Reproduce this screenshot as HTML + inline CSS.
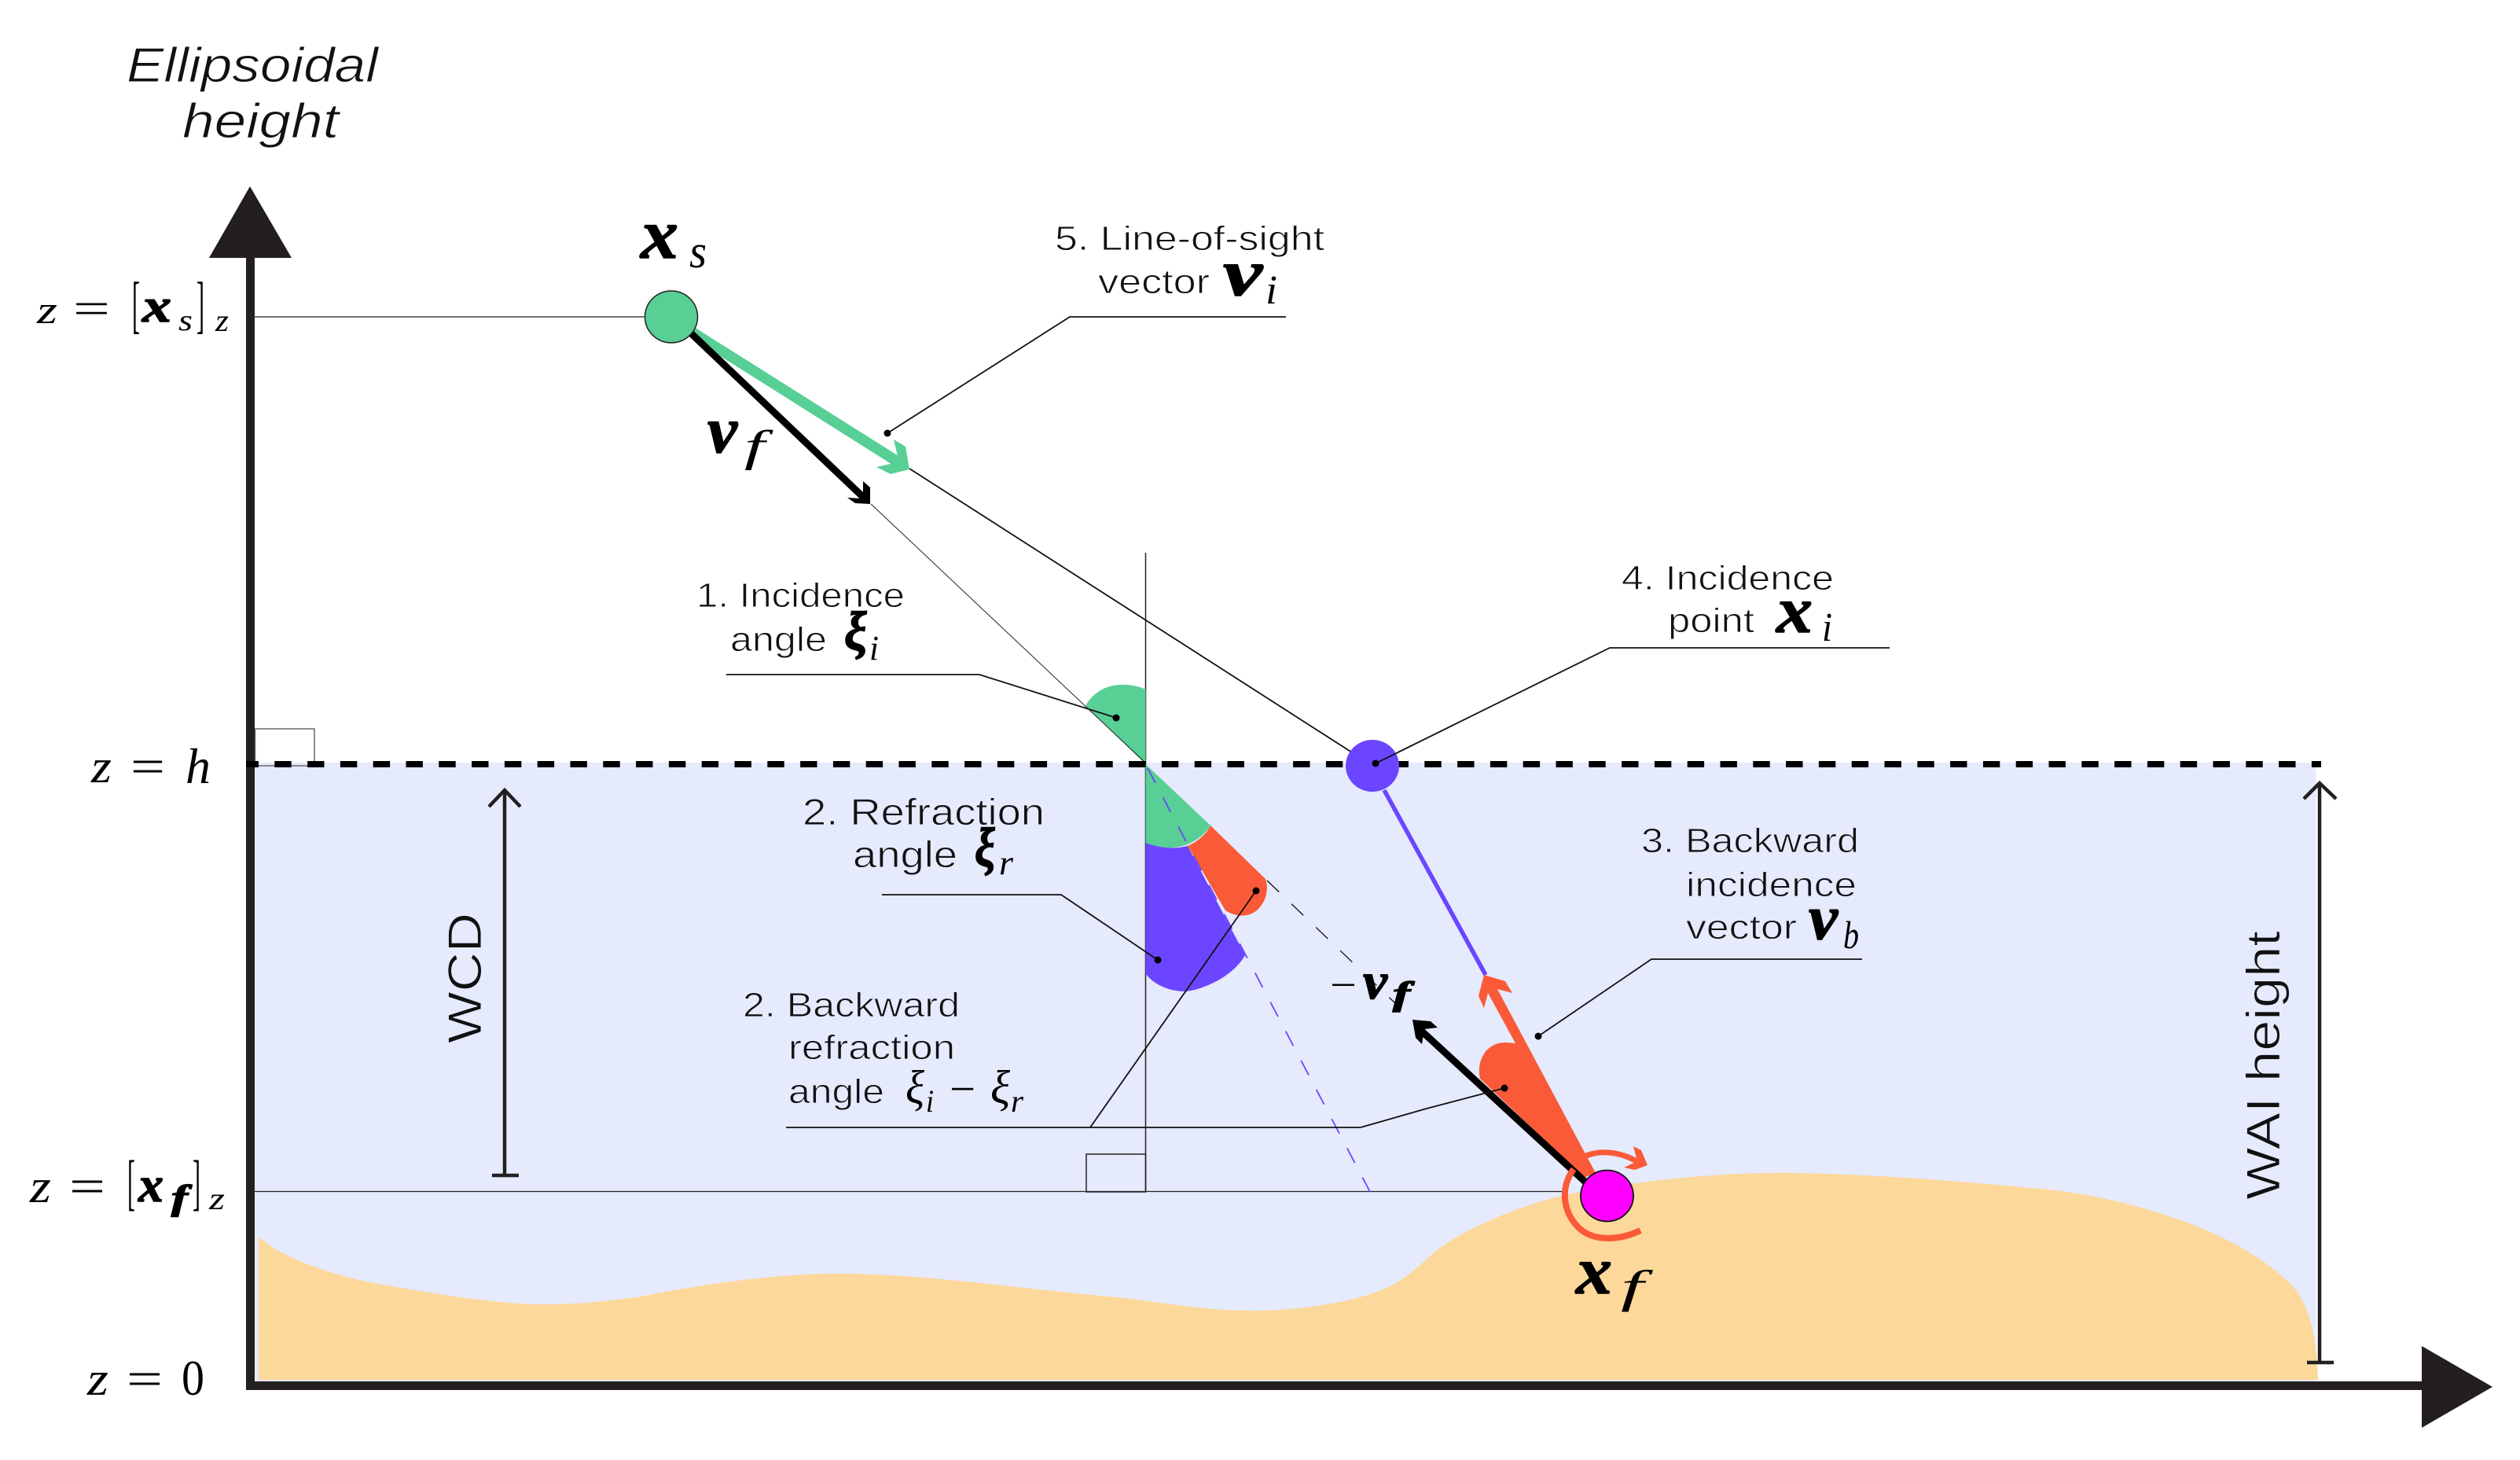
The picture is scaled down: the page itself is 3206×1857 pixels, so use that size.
<!DOCTYPE html>
<html><head><meta charset="utf-8"><style>
html,body{margin:0;padding:0;background:#fff}
svg{display:block}
text{font-family:"Liberation Sans",sans-serif;fill:#111}
.l{font-size:44px;stroke:#fff;stroke-width:.9px}
.w{font-size:44px;stroke:#e5eafd;stroke-width:.9px}
.m{font-family:"Liberation Serif",serif;font-style:italic;fill:#000}
.b{font-family:"Liberation Serif",serif;font-style:italic;font-weight:bold;fill:#000;stroke:#000;stroke-width:1.4px}
.r{font-family:"Liberation Serif",serif;fill:#000}
</style></head><body>
<svg width="3206" height="1857" viewBox="0 0 3206 1857" xmlns="http://www.w3.org/2000/svg">
<rect width="3206" height="1857" fill="#fff"/>
<!-- water & sand -->
<rect x="324" y="970" width="2622.5" height="787" fill="#e5eafd"/>
<path d="M329,1573 C355,1598 425,1625 504,1637 C570,1648 640,1660 703,1659 C745,1658 770,1655 810,1650 C860,1640 970,1620 1065,1620 C1180,1620 1300,1640 1422,1650 C1490,1658 1540,1668 1601,1667 C1660,1666 1735,1655 1774,1633 C1800,1618 1815,1600 1831,1588 C1870,1560 1930,1535 1990,1520 C2080,1502 2190,1490 2289,1492 C2400,1494 2520,1505 2606,1513 C2670,1520 2720,1534 2760,1547 C2830,1570 2880,1600 2914,1633 C2935,1655 2947,1690 2949,1755 L329,1755 Z" fill="#fdd89b"/>
<!-- right-angle boxes -->
<rect x="324.5" y="927" width="75.5" height="47" fill="none" stroke="#666" stroke-width="1.5"/>
<rect x="1382" y="1468" width="75.5" height="48" fill="none" stroke="#222" stroke-width="1.5"/>
<!-- axes -->
<rect x="313" y="327" width="11" height="1436" fill="#231f20"/>
<rect x="313" y="1757" width="2770" height="11" fill="#231f20"/>
<polygon points="318,237 266,328 371,328" fill="#231f20"/>
<polygon points="3081,1712 3171,1764 3081,1816" fill="#231f20"/>
<!-- reference lines -->
<line x1="323" y1="403" x2="822" y2="403" stroke="#444" stroke-width="1.5"/>
<line x1="319" y1="1515.5" x2="1992" y2="1515.5" stroke="#222" stroke-width="1.2"/>
<line x1="1457.5" y1="703" x2="1457.5" y2="1516" stroke="#222" stroke-width="1.5"/>
<!-- wedges -->
<path d="M1457.5,972 L1381,898 C1390,880 1410,870 1430,871 C1442,871 1452,874 1457.5,877 Z" fill="#58cf95"/>
<path d="M1457.5,972 L1540,1050 C1530,1066 1511,1077 1492,1078 C1478,1079 1466,1076 1457.5,1072 Z" fill="#58cf95"/>
<path d="M1540,1050 L1610,1118 C1614,1130 1612,1145 1600,1157 C1590,1166 1575,1168 1559,1158 L1511,1076 C1525,1070 1535,1060 1540,1050 Z" fill="#fa5a38"/>
<path d="M1457.5,1072 C1475,1079 1495,1080 1511,1076 L1584,1215 C1570,1240 1535,1258 1508,1261 C1485,1261 1465,1250 1457.5,1238 Z" fill="#6b45ff"/>
<!-- rays -->
<line x1="1108" y1="641" x2="1457" y2="970" stroke="#222" stroke-width="1"/>
<line x1="1157" y1="596" x2="1720" y2="957" stroke="#111" stroke-width="1.8"/>
<line x1="1612" y1="1120" x2="1798" y2="1298" stroke="#111" stroke-width="1.3" stroke-dasharray="21 22"/>
<line x1="1460" y1="977" x2="1743" y2="1516" stroke="#6b45ff" stroke-width="1.8" stroke-dasharray="21 21"/>
<line x1="1761" y1="1005" x2="1890" y2="1240" stroke="#6b45ff" stroke-width="5.5"/>
<!-- dashed surface -->
<line x1="307.5" y1="972" x2="2953" y2="972" stroke="#000" stroke-width="8" stroke-dasharray="21.4 20.4"/>
<rect x="300" y="968" width="13" height="8" fill="#fff"/>
<!-- vectors from xs -->
<line x1="880" y1="422" x2="1148" y2="591" stroke="#58cf95" stroke-width="13.5"/>
<polygon points="1137,559 1152,568 1157,597 1133,603 1115,594 1133,590 1142,580" fill="#58cf95"/>
<line x1="875" y1="420" x2="1100" y2="634" stroke="#000" stroke-width="9"/>
<polygon points="1098,612 1107,620 1107,641 1088,640 1078,633 1094,634 1098,628" fill="#000"/>
<!-- backward wedge and vectors -->
<path d="M1905,1258 L2030,1492 L2015,1498 L2000,1483 L1883,1372 C1878,1350 1890,1325 1917,1326 L1928,1327 L1893,1263 Z" fill="#fa5a38"/>
<polygon points="1888,1240 1915,1248 1924,1263 1905,1258 1893,1263 1888,1282 1881,1267" fill="#fa5a38"/>
<line x1="2022" y1="1508" x2="1806" y2="1309" stroke="#000" stroke-width="9"/>
<polygon points="1797,1297 1820,1299 1829,1307 1812,1309 1809,1328 1801,1320" fill="#000"/>
<!-- rotation arrows -->
<path d="M2018,1470 C2035,1463 2060,1464 2084,1478" fill="none" stroke="#fa5a38" stroke-width="7"/>
<polygon points="2078,1458 2088,1463 2096,1482 2080,1488 2066,1485 2083,1477" fill="#fa5a38"/>
<path d="M2002,1487 C1985,1510 1988,1540 2007,1560 C2026,1580 2060,1578 2087,1565" fill="none" stroke="#fa5a38" stroke-width="8"/>
<!-- points -->
<ellipse cx="854" cy="403" rx="33.5" ry="33" fill="#58cf95" stroke="#222" stroke-width="1.5"/>
<ellipse cx="1746" cy="974" rx="34" ry="33" fill="#6b45ff"/>
<ellipse cx="2044.5" cy="1521" rx="33.5" ry="32.5" fill="#ff00ff" stroke="#111" stroke-width="1.8"/>
<!-- leaders -->
<g fill="none" stroke="#111" stroke-width="1.8">
<polyline points="1129,551 1361,403 1636,403"/>
<polyline points="1750,971 2048,824 2404,824"/>
<polyline points="924,858 1246,858 1420,913"/>
<polyline points="1122,1138 1350,1138 1473,1221"/>
<polyline points="1000,1434 1387,1434 1598,1133"/>
<polyline points="1387,1434 1731,1434 1815,1410 1914,1384"/>
<polyline points="1957,1318 2101,1220 2369,1220"/>
</g>
<g fill="#000">
<circle cx="1129" cy="551" r="4.5"/><circle cx="1750" cy="971" r="4.5"/>
<circle cx="1420" cy="913" r="4.5"/><circle cx="1473" cy="1221" r="4.5"/>
<circle cx="1598" cy="1133" r="4.5"/><circle cx="1914" cy="1384" r="4.5"/>
<circle cx="1957" cy="1318" r="4.5"/>
</g>
<!-- dimension arrows -->
<g fill="none" stroke="#231f20" stroke-width="4.5">
<line x1="642" y1="1006" x2="642" y2="1495"/><polyline points="622,1026 642,1005 662,1026"/><line x1="626" y1="1495" x2="660" y2="1495"/>
<line x1="2951" y1="997" x2="2951" y2="1733"/><polyline points="2931,1016 2951,996 2972,1016"/><line x1="2935" y1="1733" x2="2969" y2="1733"/>
</g>
<!-- labels -->
<text class="l" x="161" y="104" style="font-size:62px;font-style:italic" textLength="320" lengthAdjust="spacingAndGlyphs">Ellipsoidal</text>
<text class="l" x="232" y="175" style="font-size:62px;font-style:italic" textLength="199" lengthAdjust="spacingAndGlyphs">height</text>

<text class="l" x="1342" y="318" textLength="343" lengthAdjust="spacingAndGlyphs">5. Line-of-sight</text>
<text class="l" x="1397" y="373" textLength="142" lengthAdjust="spacingAndGlyphs">vector</text>
<text class="b" x="1556" y="375" style="font-size:84px" textLength="50" lengthAdjust="spacingAndGlyphs">v</text>
<text class="m" x="1610" y="386" style="font-size:52px" textLength="15" lengthAdjust="spacingAndGlyphs">i</text>

<text class="l" x="2063" y="750" textLength="270" lengthAdjust="spacingAndGlyphs">4. Incidence</text>
<text class="l" x="2122" y="804" textLength="110" lengthAdjust="spacingAndGlyphs">point</text>
<text class="b" x="2260" y="804" style="font-size:84px" textLength="46" lengthAdjust="spacingAndGlyphs">x</text>
<text class="m" x="2318" y="815" style="font-size:52px" textLength="13" lengthAdjust="spacingAndGlyphs">i</text>

<text class="l" x="886" y="772" textLength="265" lengthAdjust="spacingAndGlyphs">1. Incidence</text>
<text class="l" x="929" y="828" textLength="123" lengthAdjust="spacingAndGlyphs">angle</text>
<text class="b" x="1074" y="826" style="font-size:70px" textLength="29" lengthAdjust="spacingAndGlyphs">ξ</text>
<text class="m" x="1106" y="839" style="font-size:44px" textLength="12" lengthAdjust="spacingAndGlyphs">i</text>

<text class="w" x="1021" y="1049" style="font-size:47px" textLength="308" lengthAdjust="spacingAndGlyphs">2. Refraction</text>
<text class="w" x="1085" y="1103" style="font-size:47px" textLength="133" lengthAdjust="spacingAndGlyphs">angle</text>
<text class="b" x="1240" y="1101" style="font-size:70px" textLength="26" lengthAdjust="spacingAndGlyphs">ξ</text>
<text class="m" x="1271" y="1112" style="font-size:44px" textLength="18" lengthAdjust="spacingAndGlyphs">r</text>

<text class="w" x="945" y="1293" textLength="276" lengthAdjust="spacingAndGlyphs">2. Backward</text>
<text class="w" x="1003" y="1347" textLength="212" lengthAdjust="spacingAndGlyphs">refraction</text>
<text class="w" x="1003" y="1403" textLength="122" lengthAdjust="spacingAndGlyphs">angle</text>
<text class="m" x="1152" y="1403" style="font-size:60px" textLength="24" lengthAdjust="spacingAndGlyphs">ξ</text>
<text class="m" x="1178" y="1414" style="font-size:40px" textLength="10" lengthAdjust="spacingAndGlyphs">i</text>
<text class="r" x="1208" y="1403" style="font-size:54px" textLength="33" lengthAdjust="spacingAndGlyphs">−</text>
<text class="m" x="1260" y="1403" style="font-size:60px" textLength="25" lengthAdjust="spacingAndGlyphs">ξ</text>
<text class="m" x="1286" y="1414" style="font-size:40px" textLength="16" lengthAdjust="spacingAndGlyphs">r</text>

<text class="w" x="2088" y="1084" textLength="277" lengthAdjust="spacingAndGlyphs">3. Backward</text>
<text class="w" x="2145" y="1140" textLength="217" lengthAdjust="spacingAndGlyphs">incidence</text>
<text class="w" x="2145" y="1194" textLength="141" lengthAdjust="spacingAndGlyphs">vector</text>
<text class="b" x="2301" y="1194" style="font-size:80px" textLength="37" lengthAdjust="spacingAndGlyphs">v</text>
<text class="m" x="2345" y="1206" style="font-size:50px" textLength="20" lengthAdjust="spacingAndGlyphs">b</text>

<text class="w" x="612" y="1327" transform="rotate(-90 612 1327)" style="font-size:60px" textLength="166" lengthAdjust="spacingAndGlyphs">WCD</text>
<text class="w" x="2900" y="1526" transform="rotate(-90 2900 1526)" style="font-size:60px" textLength="342" lengthAdjust="spacingAndGlyphs">WAI height</text>

<!-- vector labels -->
<text class="b" x="815" y="328" style="font-size:90px" textLength="48" lengthAdjust="spacingAndGlyphs">x</text>
<text class="m" x="877" y="340" style="font-size:60px" textLength="22" lengthAdjust="spacingAndGlyphs">s</text>
<text class="b" x="900" y="575" style="font-size:84px" textLength="38" lengthAdjust="spacingAndGlyphs">v</text>
<text class="m" x="947" y="586" style="font-size:56px" textLength="26" lengthAdjust="spacingAndGlyphs">f</text>
<text class="b" x="2005" y="1645" style="font-size:86px" textLength="46" lengthAdjust="spacingAndGlyphs">x</text>
<text class="m" x="2062" y="1656" style="font-size:58px" textLength="29" lengthAdjust="spacingAndGlyphs">f</text>
<text class="r" x="1692" y="1270" style="font-size:52px" textLength="34" lengthAdjust="spacingAndGlyphs">−</text>
<text class="b" x="1734" y="1270" style="font-size:66px" textLength="31" lengthAdjust="spacingAndGlyphs">v</text>
<text class="b" x="1772" y="1278" style="font-size:42px" textLength="22" lengthAdjust="spacingAndGlyphs">f</text>

<!-- z axis labels -->
<text class="m" x="47" y="411" style="font-size:50px" textLength="26" lengthAdjust="spacingAndGlyphs">z</text>
<text class="r" x="93" y="411" style="font-size:56px" textLength="47" lengthAdjust="spacingAndGlyphs">=</text>
<text class="r" x="168" y="414" style="font-size:80px" textLength="10" lengthAdjust="spacingAndGlyphs">[</text>
<text class="b" x="181" y="409" style="font-size:60px" textLength="37" lengthAdjust="spacingAndGlyphs">x</text>
<text class="m" x="227" y="420" style="font-size:38px" textLength="18" lengthAdjust="spacingAndGlyphs">s</text>
<text class="r" x="250" y="414" style="font-size:80px" textLength="10" lengthAdjust="spacingAndGlyphs">]</text>
<text class="m" x="274" y="421" style="font-size:40px" textLength="17" lengthAdjust="spacingAndGlyphs">z</text>

<text class="m" x="116" y="995" style="font-size:60px" textLength="26" lengthAdjust="spacingAndGlyphs">z</text>
<text class="r" x="166" y="995" style="font-size:60px" textLength="44" lengthAdjust="spacingAndGlyphs">=</text>
<text class="m" x="236" y="996" style="font-size:64px" textLength="32" lengthAdjust="spacingAndGlyphs">h</text>

<text class="m" x="38" y="1529" style="font-size:60px" textLength="27" lengthAdjust="spacingAndGlyphs">z</text>
<text class="r" x="88" y="1529" style="font-size:60px" textLength="46" lengthAdjust="spacingAndGlyphs">=</text>
<text class="r" x="162" y="1530" style="font-size:78px" textLength="10" lengthAdjust="spacingAndGlyphs">[</text>
<text class="b" x="176" y="1528" style="font-size:64px" textLength="32" lengthAdjust="spacingAndGlyphs">x</text>
<text class="b" x="218" y="1538" style="font-size:44px" textLength="21" lengthAdjust="spacingAndGlyphs">f</text>
<text class="r" x="245" y="1530" style="font-size:78px" textLength="10" lengthAdjust="spacingAndGlyphs">]</text>
<text class="m" x="266" y="1538" style="font-size:40px" textLength="20" lengthAdjust="spacingAndGlyphs">z</text>

<text class="m" x="111" y="1774" style="font-size:60px" textLength="27" lengthAdjust="spacingAndGlyphs">z</text>
<text class="r" x="161" y="1774" style="font-size:60px" textLength="46" lengthAdjust="spacingAndGlyphs">=</text>
<text class="r" x="231" y="1774" style="font-size:64px" textLength="29" lengthAdjust="spacingAndGlyphs">0</text>
</svg>
</body></html>
